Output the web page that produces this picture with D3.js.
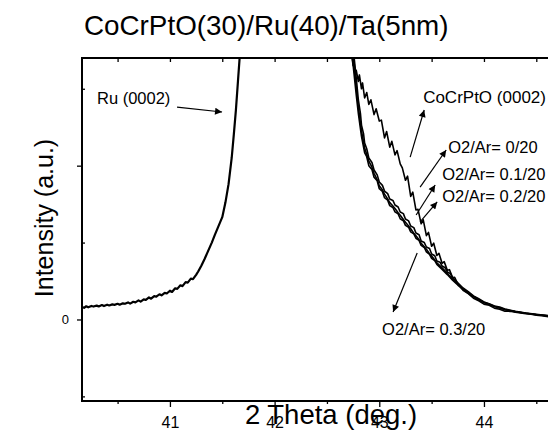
<!DOCTYPE html>
<html>
<head>
<meta charset="utf-8">
<script src="https://cdn.jsdelivr.net/npm/d3@7"></script>
<style>
  body { margin: 0; background: #fff; }
  svg { display: block; font-family: "Liberation Sans", Arial, sans-serif; }
</style>
</head>
<body>
<div id="chart"></div>
<script>
/* Data */
const xTicks = [41, 42, 43, 44];
const xMinor = [40.5, 41.5, 42.5, 43.5, 44.5];
const yTicks = [0, 1000];
const yMinor = [-500, 500, 1500];

// Ru (0002) flank, common to every scan
const ruTheta = [40.16, 40.18, 40.20, 40.22, 40.25, 40.27, 40.30, 40.32, 40.35, 40.37,
  40.40, 40.42, 40.45, 40.47, 40.50, 40.52, 40.55, 40.57, 40.60, 40.62,
  40.65, 40.67, 40.70, 40.72, 40.75, 40.77, 40.80, 40.82, 40.85, 40.87,
  40.90, 40.92, 40.95, 40.97, 41.00, 41.02, 41.05, 41.07, 41.10, 41.12,
  41.15, 41.17, 41.20, 41.22, 41.25, 41.27, 41.30, 41.33, 41.36, 41.40,
  41.43, 41.46, 41.50, 41.53, 41.56, 41.59, 41.61, 41.63, 41.65, 41.67, 41.69];
const ruCounts = [81, 76, 86, 79, 88, 84, 90, 85, 94, 87,
  96, 91, 98, 95, 102, 96, 105, 102, 111, 103,
  115, 111, 124, 116, 131, 127, 143, 135, 152, 148,
  164, 157, 173, 169, 187, 179, 203, 199, 222, 217,
  243, 240, 266, 262, 290, 312, 350, 392, 438, 500,
  552, 600, 665, 760, 880, 1050, 1200, 1360, 1550, 1740, 1900];

// CoCrPtO (0002) side, one scan per O2/Ar ratio
const thetaA = [42.72, 42.74, 42.75, 42.76, 42.77, 42.78, 42.80, 42.81, 42.83, 42.84,
  42.86, 42.88, 42.90, 42.92, 42.95, 42.97, 43.00, 43.02, 43.05, 43.07,
  43.10, 43.12, 43.15, 43.17, 43.20, 43.22, 43.25, 43.27, 43.30, 43.32,
  43.35, 43.37, 43.40, 43.42, 43.45, 43.47, 43.50, 43.52, 43.55, 43.57,
  43.60, 43.62, 43.65, 43.67, 43.70, 43.72, 43.75, 43.80, 43.85, 43.90,
  43.95, 44.00, 44.05, 44.10, 44.15, 44.20, 44.25, 44.30, 44.35, 44.40,
  44.45, 44.50, 44.55, 44.60, 44.65];
const ratio0 = [1817, 1700, 1650, 1668, 1585, 1620, 1548, 1590, 1500, 1538,
  1440, 1476, 1398, 1428, 1332, 1370, 1290, 1296, 1180, 1222,
  1120, 1158, 1070, 1098, 1012, 986, 905, 932, 800, 828,
  712, 716, 622, 648, 545, 566, 476, 496, 416, 430,
  365, 376, 320, 324, 272, 274, 232, 190, 168, 138,
  122, 100, 92, 74, 66, 54, 53, 47, 43, 37,
  34, 28, 25, 19, 17];

const thetaB = [42.72, 42.74, 42.76, 42.78, 42.80, 42.82, 42.83, 42.85, 42.86, 42.88,
  42.90, 42.93, 42.95, 42.98, 43.00, 43.03, 43.05, 43.08, 43.10, 43.13,
  43.15, 43.18, 43.20, 43.23, 43.25, 43.28, 43.30, 43.33, 43.35, 43.38,
  43.40, 43.43, 43.45, 43.48, 43.50, 43.53, 43.55, 43.58, 43.60, 43.63,
  43.65, 43.68, 43.70, 43.75, 43.80, 43.85, 43.90, 43.95, 44.00, 44.05,
  44.10, 44.15, 44.20, 44.30, 44.40, 44.50, 44.60, 44.65];
const ratio01 = [1947, 1817, 1700, 1570, 1427, 1338, 1264, 1206, 1147, 1110,
  1050, 1021, 972, 940, 894, 872, 835, 818, 783, 774,
  744, 731, 699, 688, 653, 641, 608, 597, 562, 551,
  510, 500, 471, 461, 426, 414, 380, 372, 348, 336,
  309, 298, 270, 239, 205, 181, 153, 135, 114, 102,
  88, 81, 68, 53, 42, 34, 26, 23];

const thetaC = [42.72, 42.74, 42.76, 42.78, 42.80, 42.83, 42.86, 42.88, 42.90, 42.93,
  42.95, 42.98, 43.00, 43.03, 43.05, 43.08, 43.10, 43.13, 43.15, 43.18,
  43.20, 43.23, 43.25, 43.28, 43.30, 43.33, 43.35, 43.38, 43.40, 43.43,
  43.45, 43.48, 43.50, 43.53, 43.55, 43.60, 43.65, 43.70, 43.75, 43.80,
  43.85, 43.90, 43.95, 44.00, 44.10, 44.20, 44.30, 44.40, 44.50, 44.60, 44.65];
const ratio02 = [1900, 1760, 1640, 1510, 1380, 1225, 1115, 1072, 1030, 990,
  950, 908, 870, 842, 815, 784, 760, 738, 722, 694,
  678, 650, 632, 608, 590, 561, 545, 518, 496, 472,
  456, 428, 412, 386, 368, 336, 300, 262, 230, 200,
  174, 150, 130, 112, 86, 66, 51, 41, 32, 25, 22];

const thetaD = [42.72, 42.74, 42.76, 42.78, 42.80, 42.83, 42.86, 42.88, 42.90, 42.93,
  42.95, 42.98, 43.00, 43.03, 43.05, 43.08, 43.10, 43.13, 43.15, 43.18,
  43.20, 43.23, 43.25, 43.28, 43.30, 43.33, 43.35, 43.38, 43.40, 43.43,
  43.45, 43.48, 43.50, 43.53, 43.55, 43.60, 43.65, 43.70, 43.75, 43.80,
  43.85, 43.90, 43.95, 44.00, 44.10, 44.20, 44.30, 44.40, 44.50, 44.60, 44.65];
const ratio03 = [1860, 1720, 1590, 1460, 1340, 1190, 1085, 1058, 1000, 975,
  925, 902, 850, 832, 792, 776, 740, 728, 700, 686,
  655, 642, 612, 600, 570, 556, 528, 514, 482, 468,
  440, 424, 398, 382, 358, 326, 292, 256, 224, 196,
  170, 147, 128, 110, 84, 64, 50, 40, 31, 24, 21];

const seriesNames = ["O2/Ar= 0/20", "O2/Ar= 0.1/20", "O2/Ar= 0.2/20", "O2/Ar= 0.3/20"];

// Annotations in data units: text anchor, arrow tail, arrow head
const noteText = ["Ru (0002)", "CoCrPtO (0002)", "O2/Ar= 0/20", "O2/Ar= 0.1/20", "O2/Ar= 0.2/20", "O2/Ar= 0.3/20"];
const noteAt = [[40.303, 1401], [43.419, 1407], [43.658, 1082], [43.601, 907], [43.601, 764], [43.027, -101]];
const arrowFrom = [[41.068, 1381], [43.295, 1056], [43.390, 861], [43.352, 679], [43.390, 634], [43.362, 432]];
const arrowTo = [[41.498, 1349], [43.429, 1362], [43.639, 1102], [43.534, 874], [43.553, 764], [43.132, 49]];


/* Layout */
const width = 548, height = 431;
const plot = { left: 82, right: 552, top: 58, bottom: 401 };

const svg = d3.select("#chart").append("svg")
  .attr("width", width)
  .attr("height", height);

const x = d3.scaleLinear().domain([40.16, 44.65]).range([plot.left, plot.right]);
const y = d3.scaleLinear().domain([-530, 1700]).range([plot.bottom, plot.top]);

// Title
svg.append("text")
  .attr("x", 84).attr("y", 35)
  .attr("font-size", 27.8)
  .text("CoCrPtO(30)/Ru(40)/Ta(5nm)");

// Clip for the scans
svg.append("clipPath").attr("id", "clip")
  .append("rect")
  .attr("x", plot.left).attr("y", plot.top)
  .attr("width", plot.right - plot.left).attr("height", plot.bottom - plot.top);

const line = d3.line()
  .x(d => x(d[0]))
  .y(d => y(d[1]));

const scans = svg.append("g").attr("clip-path", "url(#clip)");

scans.append("path")
  .datum(d3.zip(ruTheta, ruCounts))
  .attr("d", line)
  .attr("fill", "none").attr("stroke", "#000").attr("stroke-width", 2.2)
  .attr("stroke-linejoin", "round");

[[thetaD, ratio03], [thetaC, ratio02], [thetaB, ratio01], [thetaA, ratio0]].forEach(function(s) {
  scans.append("path")
    .datum(d3.zip(s[0], s[1]))
    .attr("d", line)
    .attr("fill", "none").attr("stroke", "#000").attr("stroke-width", 1.6)
    .attr("stroke-linejoin", "round");
});

// Frame
svg.append("rect")
  .attr("x", plot.left).attr("y", plot.top)
  .attr("width", plot.right - plot.left).attr("height", plot.bottom - plot.top)
  .attr("fill", "none").attr("stroke", "#000").attr("stroke-width", 2);

// Bottom axis
const xAxis = svg.append("g")
  .attr("transform", "translate(0," + plot.bottom + ")")
  .call(d3.axisBottom(x).tickValues(xTicks).tickSize(6).tickPadding(10).tickFormat(d3.format("d")));
xAxis.select(".domain").remove();
xAxis.selectAll("text").attr("font-size", 16).attr("font-family", null).attr("fill", "#000");

svg.append("g")
  .attr("transform", "translate(0," + plot.bottom + ")")
  .call(d3.axisBottom(x).tickValues(xMinor).tickSize(3).tickFormat(""))
  .select(".domain").remove();

// Top ticks point inward
const xTop = svg.append("g")
  .attr("transform", "translate(0," + plot.top + ")")
  .call(d3.axisBottom(x).tickValues(xTicks.concat(xMinor)).tickSize(4).tickFormat(""));
xTop.select(".domain").remove();

// Left axis
const yAxis = svg.append("g")
  .attr("transform", "translate(" + plot.left + ",0)")
  .call(d3.axisLeft(y).tickValues(yTicks).tickSize(5).tickPadding(8)
    .tickFormat(d => d === 0 ? "0" : ""));
yAxis.select(".domain").remove();
yAxis.selectAll("text").attr("font-size", 13).attr("font-family", null).attr("fill", "#000");

svg.append("g")
  .attr("transform", "translate(" + plot.left + ",0)")
  .call(d3.axisRight(y).tickValues(yMinor).tickSize(3).tickFormat(""))
  .select(".domain").remove();

svg.selectAll(".tick line").attr("stroke", "#000").attr("stroke-width", 1.3);

// Axis titles
svg.append("text")
  .attr("x", 331).attr("y", 424)
  .attr("text-anchor", "middle")
  .attr("font-size", 27.5)
  .text("2 Theta (deg.)");

svg.append("text")
  .attr("transform", "translate(53,218) rotate(-90)")
  .attr("text-anchor", "middle")
  .attr("font-size", 25)
  .text("Intensity (a.u.)");

// Arrows and labels
svg.append("defs").append("marker")
  .attr("id", "head")
  .attr("viewBox", "0 0 10 10")
  .attr("refX", 10).attr("refY", 5)
  .attr("markerWidth", 9).attr("markerHeight", 7)
  .attr("markerUnits", "userSpaceOnUse")
  .attr("orient", "auto")
  .append("path").attr("d", "M0,0L10,5L0,10Z").attr("fill", "#000");

noteText.forEach(function(t, i) {
  svg.append("line")
    .attr("x1", x(arrowFrom[i][0])).attr("y1", y(arrowFrom[i][1]))
    .attr("x2", x(arrowTo[i][0])).attr("y2", y(arrowTo[i][1]))
    .attr("stroke", "#000").attr("stroke-width", 1.2)
    .attr("marker-end", "url(#head)");
  svg.append("text")
    .attr("x", x(noteAt[i][0])).attr("y", y(noteAt[i][1]))
    .attr("font-size", i === 1 ? 17 : 16.5)
    .text(t);
});
</script>
</body>
</html>
